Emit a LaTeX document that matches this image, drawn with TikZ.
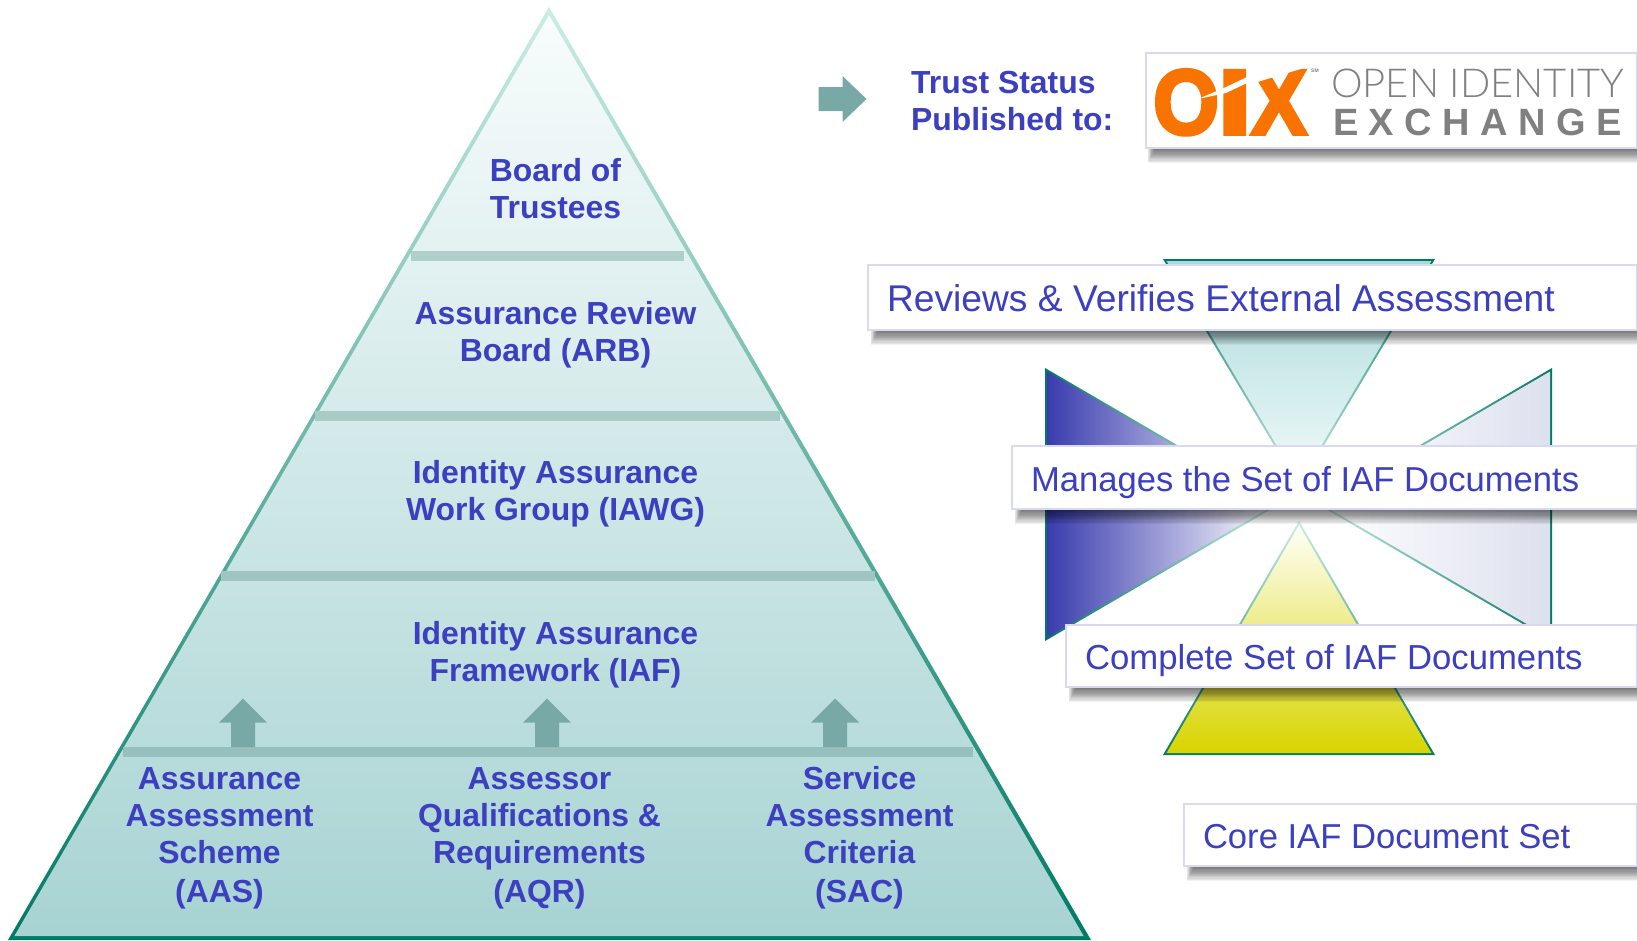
\documentclass[tikz,border=0pt]{standalone}
\usepackage{fontspec}
\usepackage{graphicx}
\setmainfont{Liberation Sans}
\newfontfamily\lightlogo{Lato Light}
\newfontfamily\heavylogo[FakeBold=4]{Liberation Sans Bold}
\newfontfamily\spacedlogo[LetterSpace=27.5]{Liberation Sans Bold}
\definecolor{txtblue}{HTML}{3B3FC0}
\definecolor{arrowteal}{HTML}{79A9A6}
\definecolor{edgedark}{HTML}{007A63}
\definecolor{edgepale}{HTML}{CBEDE3}
\definecolor{boxedge}{HTML}{D9D9F3}
\definecolor{oixorange}{HTML}{F97300}
\definecolor{logogray}{HTML}{808080}
\definecolor{pyrtop}{HTML}{F8FCFC}
\definecolor{pyrbot}{HTML}{A8D3D3}
\definecolor{barone}{HTML}{AECFCA}
\definecolor{bartwo}{HTML}{A8CBC6}
\definecolor{barthree}{HTML}{A0C5C1}
\definecolor{barfour}{HTML}{96BFBE}
\definecolor{toptop}{HTML}{A9D9D9}
\definecolor{topbot}{HTML}{F2FAFA}
\definecolor{leftblue}{HTML}{3A3CAE}
\definecolor{rightedge}{HTML}{DDE0EE}
\definecolor{rightmid}{HTML}{E6E7F3}
\definecolor{yellowbase}{HTML}{D8D400}
\definecolor{yellowtip}{HTML}{FFFFF8}
\tikzset{
  tierlabel/.style={font=\fontsize{31.9}{37}\selectfont\bfseries, text=txtblue, align=center, inner sep=0pt},
  flowarrow/.style={fill=arrowteal, draw=none},
  captionbox/.style={anchor=north west, fill=white, draw=boxedge, line width=2pt, inner sep=0pt, outer sep=0pt, text=txtblue, align=flush left},
  softshadow/.style={fill=black, fill opacity=0.055, draw=none},
}
\newcommand{\softshade}[4]{%
  \foreach \k in {0,1,...,12}{\fill[softshadow] (#1+10-\k*0.6,#4-2) rectangle (#3+6,#4+1+\k*1.15);}%
}
\begin{document}
\begin{tikzpicture}[x=1pt,y=-1pt]
\clip (0,0) rectangle (1637,940);
\fill[white] (0,0) rectangle (1637,940);
% pyramid
\shade[top color=edgepale, bottom color=edgedark] (549,7) -- (8,940) -- (1091,940) -- cycle;
\shade[top color=pyrtop, bottom color=pyrbot] (549,15) -- (14.4,936) -- (1083.6,936) -- cycle;
% tier bars
\fill[barone] (411,251) rectangle (684,261);
\fill[bartwo] (315,411) rectangle (780,421);
\fill[barthree] (221,571) rectangle (875,581);
\fill[barfour] (123,747) rectangle (973,757);
% up arrows
\foreach \cx in {243,547,835}{
  \fill[flowarrow] (\cx,698.5) -- (\cx+24,722.5) -- (\cx+12,722.5) -- (\cx+12,747) -- (\cx-12,747) -- (\cx-12,722.5) -- (\cx-24,722.5) -- cycle;
}
% tier labels
\node[tierlabel] (trustees) at (555.5,189) {Board of\\Trustees};
\node[tierlabel] (arb) at (555.5,335) {Assurance Review\\Board (ARB)};
\node[tierlabel] (iawg) at (555.5,494) {Identity Assurance\\Work Group (IAWG)};
\node[tierlabel] (iaf) at (555.5,655) {Identity Assurance\\Framework (IAF)};
\node[tierlabel] (aas) at (219.5,838.5) {Assurance\\Assessment\\Scheme\\[2pt](AAS)};
\node[tierlabel] (aqr) at (539.5,838.5) {Assessor\\Qualifications \&\\Requirements\\[2pt](AQR)};
\node[tierlabel] (sac) at (859.5,838) {Service\\Assessment\\Criteria\\[2pt](SAC)};
% trust status
\fill[flowarrow] (818.5,87) -- (842.5,87) -- (842.5,76) -- (866.5,99) -- (842.5,122) -- (842.5,111) -- (818.5,111) -- cycle;
\node[tierlabel, align=left, anchor=west] (trust) at (911,101) {Trust Status\\Published to:};
% logo
\softshade{1145}{53}{1637}{148}
\node[captionbox, minimum width=491pt, minimum height=95pt] (logobox) at (1146,53) {};
\node[anchor=base west, inner sep=0pt, text=oixorange, font=\fontsize{92}{92}\heavylogo] (oix) at (1153,134) {\scalebox{0.92}[1]{O}\kern-1.5pt\scalebox{1.35}[1]{I}\kern-1pt\scalebox{0.91}[1]{X}};
\fill[white] (1247,62) -- (1309,62) -- (1309,66.5) -- (1254,83) -- (1247,83) -- cycle;
\fill[white] (1198,99) -- (1226,87) -- (1247,77) -- (1247,83) -- (1226,93) -- cycle;
\node[anchor=base west, inner sep=0pt, text=logogray, font=\fontsize{5}{5}\selectfont\bfseries] (sm) at (1311,72) {SM};
\node[anchor=base west, inner sep=0pt, text=logogray, font=\fontsize{39.9}{40}\lightlogo] (open) at (1331,97) {OPEN IDENTITY};
\node[anchor=base west, inner sep=0pt, text=logogray, font=\fontsize{38}{38}\spacedlogo] (exch) at (1333,135) {EXCHANGE};
% cross of triangles
\shade[top color=edgedark, bottom color=edgepale] (1163,259) -- (1435,259) -- (1299,487) -- cycle;
\shade[top color=toptop, bottom color=topbot] (1166.5,261) -- (1431.5,261) -- (1299,483) -- cycle;
\shade[left color=edgedark, right color=edgepale] (1045,368) -- (1045,641) -- (1279,504.5) -- cycle;
\shade[left color=leftblue, right color=white] (1047,371.5) -- (1047,637.5) -- (1275,504.5) -- cycle;
\shade[right color=edgedark, left color=edgepale] (1552,368) -- (1552,641) -- (1318,504.5) -- cycle;
\shade[right color=rightedge, middle color=rightmid, left color=white] (1550,371.5) -- (1550,637.5) -- (1322,504.5) -- cycle;
\shade[bottom color=edgedark, top color=edgepale] (1163,755) -- (1435,755) -- (1299,521) -- cycle;
\shade[bottom color=yellowbase, top color=yellowtip] (1166.5,753) -- (1431.5,753) -- (1299,525) -- cycle;
% caption boxes
\softshade{868}{265}{1637}{330}
\node[captionbox, minimum width=769pt, minimum height=65pt, text width=731pt, text height=46.4pt, text depth=18.6pt, font=\fontsize{37.2}{44}\selectfont] (reviews) at (868,265) {Reviews \& Verifies External Assessment};
\softshade{1012}{446}{1637}{509}
\node[captionbox, minimum width=625pt, minimum height=63pt, text width=587pt, text height=45pt, text depth=18pt, font=\fontsize{34.6}{41}\selectfont] (manages) at (1012,446) {Manages the Set of IAF Documents};
\softshade{1066}{625}{1637}{687}
\node[captionbox, minimum width=571pt, minimum height=62pt, text width=533pt, text height=44.5pt, text depth=17.5pt, font=\fontsize{34.7}{41}\selectfont] (complete) at (1066,625) {Complete Set of IAF Documents};
\softshade{1184}{804}{1637}{866}
\node[captionbox, minimum width=453pt, minimum height=62pt, text width=415pt, text height=44pt, text depth=18pt, font=\fontsize{34.6}{41}\selectfont] (core) at (1184,804) {Core IAF Document Set};
\end{tikzpicture}
\end{document}
